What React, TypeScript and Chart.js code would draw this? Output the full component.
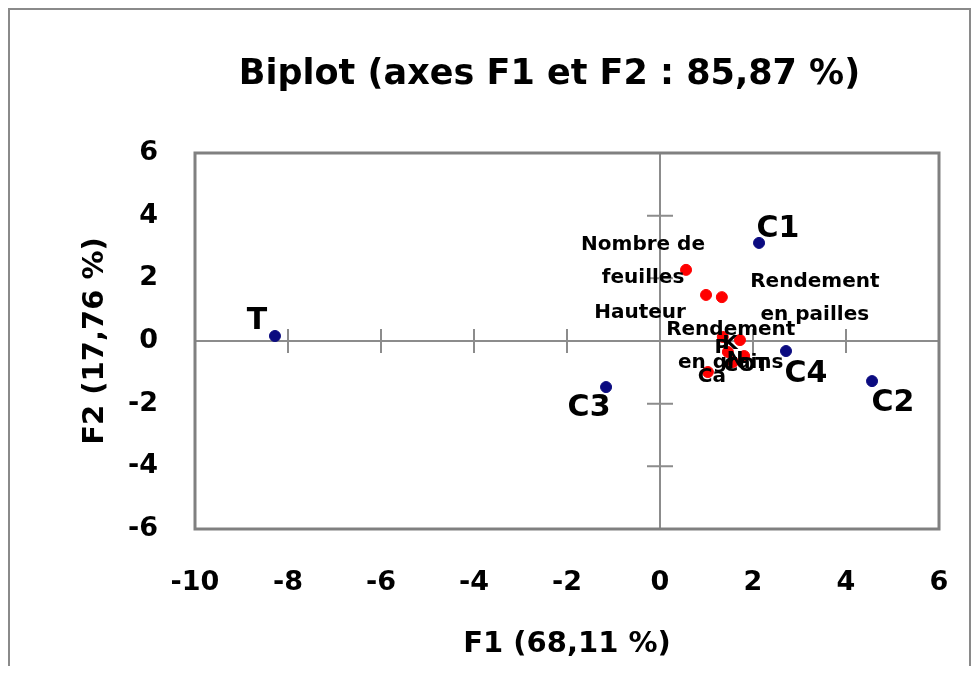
import { useEffect, useRef } from 'react';
import { Chart, registerables } from 'chart.js';

Chart.register(...registerables);

const FONT = '"DejaVu Sans", sans-serif';

// Observations (blue)
const observationNames = ['T', 'C1', 'C2', 'C3', 'C4'];
const observationF1 = [-8.28, 2.13, 4.56, -1.16, 2.71];
const observationF2 = [0.16, 3.13, -1.28, -1.47, -0.32];

// Variables (red)
const variableNames = [
  'Nombre de feuilles',
  'Hauteur',
  'Rendement en pailles',
  'Rendement en grains',
  'K',
  'P',
  'N',
  'Ca',
  'COT',
];
const variableF1 = [0.56, 0.99, 1.33, 1.35, 1.72, 1.46, 1.57, 1.03, 1.81];
const variableF2 = [2.27, 1.47, 1.4, 0.13, 0.03, -0.35, -0.67, -0.99, -0.48];

// Axis ranges / ticks
const xTicks = [-10, -8, -6, -4, -2, 0, 2, 4, 6];
const yTicks = [-6, -4, -2, 0, 2, 4, 6];

// Label presentation (offsets in px from the point, and line breaks)
const observationLabelOffsets: [number, number][] = [
  [-18, -15],
  [19, -14],
  [21, 22],
  [-17, 21],
  [20, 23],
];
const variableLabelLines: string[][] = [
  ['Nombre de', 'feuilles'],
  ['Hauteur'],
  ['Rendement', 'en pailles'],
  ['Rendement', 'en grains'],
  ['K'],
  ['P'],
  ['N'],
  ['Ca'],
  ['COT'],
];
const variableLabelOffsets: [number, number][] = [
  [-43, -9],
  [-66, 18],
  [93, 1],
  [8, 9],
  [-10, 4],
  [-6, -4],
  [2, -2],
  [4, 5],
  [2, 10],
];

const decorPlugin = {
  id: 'biplotDecor',
  beforeDatasetsDraw(chart: any) {
    const { ctx, chartArea } = chart;
    const xs = chart.scales.x;
    const ys = chart.scales.y;
    const x0 = xs.getPixelForValue(0);
    const y0 = ys.getPixelForValue(0);
    ctx.save();
    ctx.strokeStyle = '#8c8c8c';
    ctx.lineWidth = 2;
    ctx.beginPath();
    ctx.moveTo(chartArea.left, y0);
    ctx.lineTo(chartArea.right, y0);
    ctx.moveTo(x0, chartArea.top);
    ctx.lineTo(x0, chartArea.bottom);
    xTicks.forEach((v) => {
      if (v === 0 || v === xTicks[0] || v === xTicks[xTicks.length - 1]) return;
      const px = xs.getPixelForValue(v);
      ctx.moveTo(px, y0 - 12);
      ctx.lineTo(px, y0 + 12);
    });
    yTicks.forEach((v) => {
      if (v === 0 || v === yTicks[0] || v === yTicks[yTicks.length - 1]) return;
      const py = ys.getPixelForValue(v);
      ctx.moveTo(x0 - 13, py);
      ctx.lineTo(x0 + 13, py);
    });
    ctx.stroke();
    ctx.strokeStyle = '#808080';
    ctx.lineWidth = 3;
    ctx.strokeRect(
      chartArea.left,
      chartArea.top,
      chartArea.right - chartArea.left,
      chartArea.bottom - chartArea.top
    );
    ctx.restore();
  },
  afterDatasetsDraw(chart: any) {
    const { ctx } = chart;
    ctx.save();
    ctx.fillStyle = '#000';
    ctx.textAlign = 'center';
    ctx.textBaseline = 'middle';
    const varMeta = chart.getDatasetMeta(1);
    ctx.font = `bold 20px ${FONT}`;
    varMeta.data.forEach((pt: any, i: number) => {
      const lines = variableLabelLines[i];
      const [dx, dy] = variableLabelOffsets[i];
      const lh = 33;
      const startY = pt.y + dy - ((lines.length - 1) * lh) / 2;
      lines.forEach((line, k) => {
        ctx.fillText(line, pt.x + dx, startY + k * lh);
      });
    });
    const obsMeta = chart.getDatasetMeta(0);
    ctx.font = `bold 30px ${FONT}`;
    obsMeta.data.forEach((pt: any, i: number) => {
      const [dx, dy] = observationLabelOffsets[i];
      ctx.fillText(observationNames[i], pt.x + dx, pt.y + dy);
    });
    ctx.restore();
  },
};

export default function App() {
  const canvasRef = useRef<HTMLCanvasElement | null>(null);

  useEffect(() => {
    if (!canvasRef.current) return;
    const chart = new Chart(canvasRef.current, {
      type: 'scatter',
      data: {
        datasets: [
          {
            label: 'Observations',
            data: observationF1.map((x, i) => ({ x, y: observationF2[i] })),
            backgroundColor: '#0b0b80',
            borderColor: '#0b0b80',
            pointRadius: 5.5,
            pointHoverRadius: 5.5,
          },
          {
            label: 'Variables',
            data: variableF1.map((x, i) => ({ x, y: variableF2[i] })),
            backgroundColor: '#ff0000',
            borderColor: '#ff0000',
            pointRadius: 5.5,
            pointHoverRadius: 5.5,
          },
        ],
      },
      options: {
        animation: false,
        responsive: false,
        devicePixelRatio: 1,
        layout: { padding: 0 },
        plugins: {
          legend: { display: false },
          tooltip: { enabled: false },
          title: {
            display: true,
            text: 'Biplot (axes F1 et F2 : 85,87 %)',
            color: '#000',
            font: { family: FONT, size: 35, weight: 'bold', lineHeight: 1.2 },
            padding: { top: 44, bottom: 57 },
          },
        },
        scales: {
          x: {
            type: 'linear',
            min: -10,
            max: 6,
            afterBuildTicks: (s: any) => {
              s.ticks = xTicks.map((v) => ({ value: v }));
            },
            afterFit: (s: any) => {
              s.height = 137;
            },
            grid: { display: false, drawTicks: false },
            border: { display: false },
            ticks: {
              color: '#000',
              padding: 38,
              maxRotation: 0,
              autoSkip: false,
              font: { family: FONT, size: 27, weight: 'bold', lineHeight: 1.2 },
              callback: (v: any) => String(v),
            },
            title: {
              display: true,
              text: 'F1 (68,11 %)',
              color: '#000',
              font: { family: FONT, size: 29, weight: 'bold', lineHeight: 1.2 },
              padding: { top: 0, bottom: 4 },
            },
          },
          y: {
            type: 'linear',
            min: -6,
            max: 6,
            afterBuildTicks: (s: any) => {
              s.ticks = yTicks.map((v) => ({ value: v }));
            },
            afterFit: (s: any) => {
              s.width = 185;
            },
            grid: { display: false, drawTicks: false },
            border: { display: false },
            ticks: {
              color: '#000',
              padding: 37,
              autoSkip: false,
              font: { family: FONT, size: 27, weight: 'bold', lineHeight: 1.2 },
              callback: (v: any) => String(v),
            },
            title: {
              display: true,
              text: 'F2 (17,76 %)',
              color: '#000',
              font: { family: FONT, size: 29, weight: 'bold', lineHeight: 1.2 },
              padding: { top: 68, bottom: 0 },
            },
          },
          // empty right-hand spacer so the title stays centred where it is in the original
          spacer: {
            type: 'linear',
            position: 'right',
            min: -6,
            max: 6,
            afterFit: (s: any) => {
              s.width = 150;
            },
            grid: { display: false, drawTicks: false },
            border: { display: false },
            ticks: { display: false },
          },
        },
      },
      plugins: [decorPlugin],
    });
    return () => chart.destroy();
  }, []);

  return (
    <div
      style={{
        width: 959,
        height: 656,
        borderTop: '2px solid #8a8a8a',
        borderLeft: '2px solid #8a8a8a',
        borderRight: '2px solid #8a8a8a',
        overflow: 'hidden',
        background: '#fff',
      }}
    >
      <canvas
        ref={canvasRef}
        width={1079}
        height={656}
        style={{ display: 'block', width: 1079, height: 656 }}
      />
    </div>
  );
}
